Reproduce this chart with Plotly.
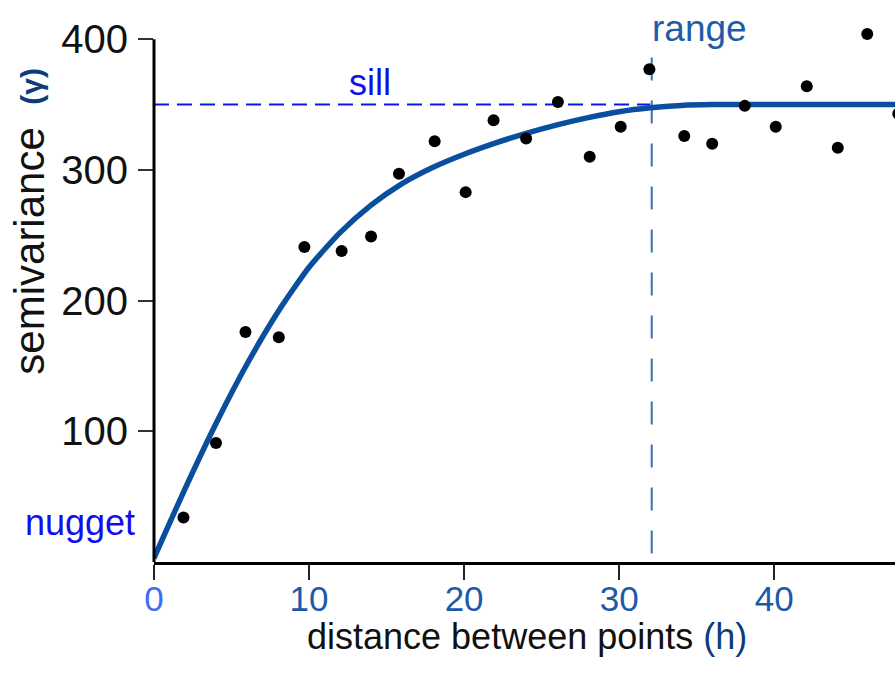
import plotly.graph_objects as go

# ---- data ----
h_points = [1.9, 4.0, 5.9, 8.05, 9.7, 12.1, 14.0, 15.8, 18.1, 20.1, 21.9, 24.0,
            26.05, 28.1, 30.1, 31.95, 34.2, 36.0, 38.1, 40.1, 42.1, 44.1, 46.0, 48.0]
gamma_points = [34, 91, 176, 172, 241, 238, 249, 297, 322, 283, 338, 324,
                352, 310, 333, 377, 326, 320, 349, 333, 364, 317, 404, 343]

curve_h = [0, 2, 4, 6, 8, 10, 12, 14, 16, 18, 20, 22, 24, 26, 28, 30, 32,
           34, 36, 38, 40, 44, 48]
curve_gamma = [3, 56, 106, 151.5, 191.5, 225.5, 252, 273, 289.5, 302, 312, 320.5,
               328, 334.5, 340, 344.5, 347.5, 349.3, 350, 350, 350, 350, 350]

sill_value = 350
range_value = 32.1
range_line_top = 386

x_tickvals = [0, 10, 20, 30, 40]
x_ticktext = ["<span style='color:#3d6ff0'>0</span>", "10", "20", "30", "40"]
y_tickvals = [100, 200, 300, 400]

X_MAX = 47.79
Y_MAX = 430

PLOT_LEFT, PLOT_W = 154.3, 740.7
PLOT_BOTTOM, PLOT_H = 562.0, 562.0


def px_x(px):
    return (px - PLOT_LEFT) / PLOT_W


def px_y(py):
    return (PLOT_BOTTOM - py) / PLOT_H


fig = go.Figure()

fig.add_trace(go.Scatter(
    x=curve_h, y=curve_gamma, mode="lines",
    line=dict(color="#0a4f9e", width=5.5, shape="spline", smoothing=0.6),
    hoverinfo="skip", showlegend=False))

fig.add_trace(go.Scatter(
    x=h_points, y=gamma_points, mode="markers",
    marker=dict(color="black", size=12),
    cliponaxis=True, showlegend=False))

# sill line
fig.add_shape(type="line", xref="x", yref="y", x0=0, x1=range_value - 0.1,
              y0=sill_value, y1=sill_value, layer="below",
              line=dict(color="#0a14f0", width=2, dash="15px,8px"))
# range line
fig.add_shape(type="line", xref="x", yref="y", x0=range_value, x1=range_value,
              y0=range_line_top, y1=0, layer="below",
              line=dict(color="#3a6fb5", width=2, dash="23px,20px"))
# y axis line (0 to 400 only)
fig.add_shape(type="line", xref="paper", yref="paper", x0=0, x1=0,
              y0=0, y1=400 / Y_MAX, layer="above",
              line=dict(color="black", width=3))

font = "Liberation Sans, Arial, sans-serif"

annos = [
    dict(text="nugget", x=px_x(80), y=px_y(522.5), color="#1010ee", size=36),
    dict(text="sill", x=px_x(370), y=px_y(82.5), color="#1010ee", size=36),
    dict(text="range", x=px_x(700), y=px_y(28.5), color="#1f5ca8", size=37),
]
for a in annos:
    fig.add_annotation(text=a["text"], xref="paper", yref="paper", x=a["x"], y=a["y"],
                       xanchor="center", yanchor="middle", showarrow=False,
                       font=dict(family=font, size=a["size"], color=a["color"]))

# axis titles as annotations
fig.add_annotation(
    text="distance between points <span style='color:#0a3d7a'>(h)</span>",
    xref="paper", yref="paper", x=px_x(527.5), y=px_y(636),
    xanchor="center", yanchor="middle", showarrow=False,
    font=dict(family=font, size=36, color="#111111"))
fig.add_annotation(
    text="semivariance", textangle=-90,
    xref="paper", yref="paper", x=px_x(29.5), y=px_y(251.5),
    xanchor="center", yanchor="middle", showarrow=False,
    font=dict(family=font, size=42, color="#111111"))
fig.add_annotation(
    text="<b>(γ)</b>", textangle=-90,
    xref="paper", yref="paper", x=px_x(32), y=px_y(86),
    xanchor="center", yanchor="middle", showarrow=False,
    font=dict(family=font, size=30, color="#0a3d7a"))

fig.update_layout(
    width=895, height=689,
    margin=dict(l=154, r=0, t=0, b=127, pad=0),
    paper_bgcolor="white", plot_bgcolor="white",
    showlegend=False,
    xaxis=dict(range=[0, X_MAX], tickvals=x_tickvals, ticktext=x_ticktext,
               showgrid=False, zeroline=False, showline=True, linecolor="black",
               linewidth=3, ticks="outside", ticklen=15, tickwidth=2, tickcolor="#222",
               ticklabelstandoff=-11,
               tickfont=dict(family=font, size=35, color="#1c5aa8")),
    yaxis=dict(range=[0, Y_MAX], tickvals=y_tickvals,
               showgrid=False, zeroline=False, showline=False,
               ticks="outside", ticklen=15, tickwidth=2, tickcolor="#333",
               ticklabelstandoff=2,
               tickfont=dict(family=font, size=40, color="#111111")),
)

fig.write_html(
    "out.html",
    config={"displayModeBar": False},
    post_script="document.body.style.margin='0';document.body.style.overflow='hidden';",
)
